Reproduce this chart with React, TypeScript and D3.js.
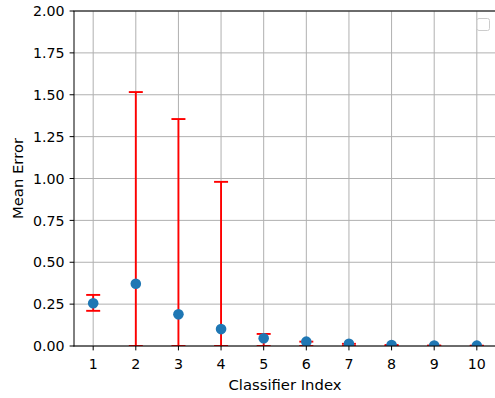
import React from "react";
import * as d3 from "d3";

const classifiers = [1, 2, 3, 4, 5, 6, 7, 8, 9, 10];
const meanErrors = [0.255, 0.372, 0.189, 0.101, 0.046, 0.026, 0.013, 0.006, 0.003, 0.002];
const upperBounds = [0.305, 1.516, 1.355, 0.98, 0.072, 0.026, 0.013, 0.006, 0.003, 0.002];
const lowerBounds = [0.21, 0, 0, 0, 0, 0, 0, 0, 0, 0];
const yTicks = [0, 0.25, 0.5, 0.75, 1.0, 1.25, 1.5, 1.75, 2.0];

const W = 495;
const H = 398;
const M = { left: 74, right: 496, top: 11, bottom: 346 };
const FONT = "'DejaVu Sans', sans-serif";
const FS = 14.2;
const FS_LABEL = 14.8;

export default function App() {
  const x = d3.scaleLinear().domain([0.55, 10.45]).range([M.left, M.right]);
  const y = d3.scaleLinear().domain([0, 2]).range([M.bottom, M.top]);
  const cap = 7;
  return (
    <svg width={W} height={H} style={{ position: "absolute", left: 0, top: 0 }} fontFamily={FONT}>
      <rect x={0} y={0} width={W} height={H} fill="#fff" />
      <defs>
        <clipPath id="plot">
          <rect x={M.left} y={M.top} width={M.right - M.left} height={M.bottom - M.top} />
        </clipPath>
      </defs>
      {/* grid */}
      <g stroke="#b0b0b0" strokeWidth={1}>
        {classifiers.map((c) => (
          <line key={"gx" + c} x1={x(c)} x2={x(c)} y1={M.top} y2={M.bottom} />
        ))}
        {yTicks.map((t) => (
          <line key={"gy" + t} x1={M.left} x2={M.right} y1={y(t)} y2={y(t)} />
        ))}
      </g>
      {/* error bars */}
      <g clipPath="url(#plot)" stroke="#ff0000" strokeWidth={1.9}>
        {classifiers.map((c, i) => (
          <g key={"e" + c}>
            <line x1={x(c)} x2={x(c)} y1={y(lowerBounds[i])} y2={y(upperBounds[i])} />
            <line x1={x(c) - cap} x2={x(c) + cap} y1={y(upperBounds[i])} y2={y(upperBounds[i])} />
            <line x1={x(c) - cap} x2={x(c) + cap} y1={y(lowerBounds[i])} y2={y(lowerBounds[i])} />
          </g>
        ))}
      </g>
      {/* points */}
      <g clipPath="url(#plot)" fill="#1f77b4">
        {classifiers.map((c, i) => (
          <circle key={"p" + c} cx={x(c)} cy={y(meanErrors[i])} r={5.3} />
        ))}
      </g>
      {/* spines */}
      <g stroke="#000" strokeWidth={1} fill="none">
        <line x1={M.left} x2={M.left} y1={M.top} y2={M.bottom + 0.5} />
        <line x1={M.left - 0.5} x2={M.right} y1={M.bottom} y2={M.bottom} />
        <line x1={M.left - 0.5} x2={M.right} y1={M.top} y2={M.top} />
        <line x1={M.right} x2={M.right} y1={M.top} y2={M.bottom} />
      </g>
      {/* ticks */}
      <g fontSize={FS} fill="#000">
        {yTicks.map((t) => (
          <g key={"yt" + t}>
            <line x1={M.left - 4.4} x2={M.left} y1={y(t)} y2={y(t)} stroke="#000" strokeWidth={1} />
            <text x={M.left - 9.5} y={y(t) + 5.2} textAnchor="end">
              {t.toFixed(2)}
            </text>
          </g>
        ))}
        {classifiers.map((c) => (
          <g key={"xt" + c}>
            <line x1={x(c)} x2={x(c)} y1={M.bottom} y2={M.bottom + 4.4} stroke="#000" strokeWidth={1} />
            <text x={x(c)} y={368.5} textAnchor="middle">
              {c}
            </text>
          </g>
        ))}
      </g>
      <text x={(M.left + M.right) / 2} y={389.5} textAnchor="middle" fontSize={FS_LABEL}>
        Classifier Index
      </text>
      <text
        transform={`translate(22.5, ${(M.top + M.bottom) / 2}) rotate(-90)`}
        textAnchor="middle"
        fontSize={FS_LABEL}
      >
        Mean Error
      </text>
      {/* empty legend */}
      <rect x={477} y={18.5} width={12.5} height={12} rx={2} fill="#fff" fillOpacity={0.8} stroke="#cccccc" strokeWidth={1} />
    </svg>
  );
}
